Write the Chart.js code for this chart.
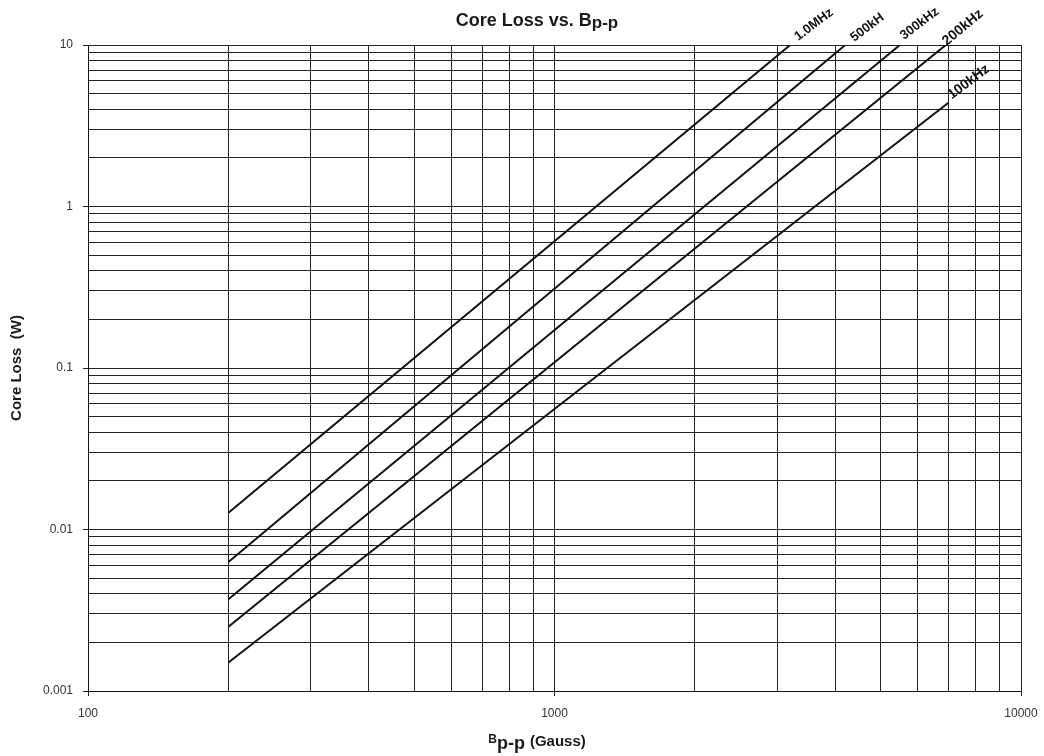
<!DOCTYPE html>
<html>
<head>
<meta charset="utf-8">
<title>Core Loss vs. Bp-p</title>
<script src="https://cdn.jsdelivr.net/npm/chart.js@4/dist/chart.umd.min.js"></script>
<style>
  html, body { margin: 0; padding: 0; background: #fff; }
  #wrap { width: 1044px; height: 756px; }
</style>
</head>
<body>
<div id="wrap"><canvas id="lossChart" width="1044" height="756"></canvas></div>
<script>
// curve labels and end points (B in gauss, loss in W)
const freqLabels = ['1.0MHz', '500kH', '300kHz', '200kHz', '100kHz'];
const bStart = [200, 200, 200, 200, 200];
const bEnd = [3200, 4200, 5500, 6900, 7000];
const lossStart = [0.0127, 0.0063, 0.0037, 0.0025, 0.0015];
const lossEnd = [10, 10, 10, 10, 4.4];

// axis ticks: decades carry a label, the rest are grid only
const xMajor = [100, 1000, 10000];
const xTickLabels = ['100', '1000', '10000'];
const yMajor = [0.001, 0.01, 0.1, 1, 10];
const yTickLabels = ['0.001', '0.01', '0.1', '1', '10'];
const steps = [1, 2, 3, 4, 5, 6, 7, 8, 9];

function gridValues(majors) {
  const out = [];
  majors.forEach((m, i) => {
    if (i === majors.length - 1) { out.push(m); return; }
    steps.forEach(s => out.push(+(m * s).toPrecision(6)));
  });
  return out;
}
const xTickValues = gridValues(xMajor);
const yTickValues = gridValues(yMajor);

function majorLabel(value, majors, labels) {
  const i = majors.findIndex(m => Math.abs(value / m - 1) < 1e-6);
  return i >= 0 ? labels[i] : '';
}

// label styling per curve (offset from line end, rotation, font size)
const labelStyle = [
  { dx: 8, dy: -4, angle: -37, size: 13 },
  { dx: 9, dy: -3, angle: -37, size: 13 },
  { dx: 4, dy: -5, angle: -37, size: 13 },
  { dx: 1, dy: 1, angle: -40, size: 14 },
  { dx: 3, dy: -3, angle: -37, size: 14 }
];

const curveLabels = {
  id: 'curveLabels',
  afterDatasetsDraw(chart) {
    const ctx = chart.ctx;
    chart.data.datasets.forEach((ds, i) => {
      const pts = chart.getDatasetMeta(i).data;
      const end = pts[pts.length - 1];
      const st = labelStyle[i];
      ctx.save();
      ctx.translate(end.x + st.dx, end.y + st.dy);
      ctx.rotate(st.angle * Math.PI / 180);
      ctx.font = 'bold ' + st.size + 'px "Liberation Sans", Arial, sans-serif';
      ctx.fillStyle = '#111';
      ctx.textAlign = 'left';
      ctx.textBaseline = 'alphabetic';
      ctx.fillText(ds.label, 0, 0);
      ctx.restore();
    });
  }
};

// draw a run of text pieces with their own size and baseline shift
function drawRuns(ctx, runs, cx, baseY) {
  let total = 0;
  runs.forEach(r => {
    ctx.font = 'bold ' + r.size + 'px "Liberation Sans", Arial, sans-serif';
    r.w = ctx.measureText(r.text).width;
    total += r.w + (r.gap || 0);
  });
  let x = cx - total / 2;
  runs.forEach(r => {
    ctx.font = 'bold ' + r.size + 'px "Liberation Sans", Arial, sans-serif';
    ctx.fillText(r.text, x, baseY + r.shift);
    x += r.w + (r.gap || 0);
  });
}

const titles = {
  id: 'titles',
  afterDraw(chart) {
    const ctx = chart.ctx;
    ctx.save();
    ctx.fillStyle = '#1a1a1a';
    ctx.textAlign = 'left';
    ctx.textBaseline = 'alphabetic';
    drawRuns(ctx, [
      { text: 'Core Loss vs. B', size: 18, shift: 0 },
      { text: 'p-p', size: 17, shift: 2 }
    ], 537, 26);
    drawRuns(ctx, [
      { text: 'B', size: 12, shift: -6 },
      { text: 'p-p', size: 18, shift: 0, gap: 5 },
      { text: '(Gauss)', size: 15, shift: -3 }
    ], 537, 749);
    ctx.restore();
  }
};

const datasets = freqLabels.map((name, i) => ({
  label: name,
  data: [{ x: bStart[i], y: lossStart[i] }, { x: bEnd[i], y: lossEnd[i] }],
  borderColor: '#111',
  borderWidth: 2,
  pointRadius: 0,
  tension: 0,
  fill: false
}));

const gridColor = '#222';

new Chart(document.getElementById('lossChart'), {
  type: 'line',
  data: { datasets },
  options: {
    responsive: false,
    animation: false,
    devicePixelRatio: 1,
    layout: { padding: { top: 45, right: 23, left: 0, bottom: 0 } },
    plugins: {
      legend: { display: false },
      title: { display: false },
      tooltip: { enabled: false }
    },
    scales: {
      x: {
        type: 'logarithmic',
        min: 100,
        max: 10000,
        afterBuildTicks: scale => { scale.ticks = xTickValues.map(v => ({ value: v })); },
        afterFit: scale => {
          scale.height = 65;
          scale.paddingLeft = 0;
          scale.paddingRight = 0;
        },
        grid: {
          color: gridColor,
          lineWidth: 1,
          tickLength: 5,
          tickColor: c => majorLabel(c.tick.value, xMajor, xTickLabels) ? gridColor : 'rgba(0,0,0,0)'
        },
        border: { color: '#111', width: 1 },
        ticks: {
          autoSkip: false,
          maxRotation: 0,
          padding: 10,
          color: '#333',
          font: { family: '"Liberation Sans", Arial, sans-serif', size: 12 },
          callback: v => majorLabel(v, xMajor, xTickLabels)
        }
      },
      y: {
        type: 'logarithmic',
        min: 0.001,
        max: 10,
        afterBuildTicks: scale => { scale.ticks = yTickValues.map(v => ({ value: v })); },
        afterFit: scale => {
          scale.width = 88;
          scale.paddingTop = 0;
          scale.paddingBottom = 0;
        },
        grid: {
          color: gridColor,
          lineWidth: 1,
          tickLength: 5,
          tickColor: c => majorLabel(c.tick.value, yMajor, yTickLabels) ? gridColor : 'rgba(0,0,0,0)'
        },
        border: { color: '#111', width: 1 },
        ticks: {
          autoSkip: false,
          padding: 10,
          color: '#333',
          font: { family: '"Liberation Sans", Arial, sans-serif', size: 12 },
          callback: v => majorLabel(v, yMajor, yTickLabels)
        },
        title: {
          display: true,
          text: 'Core Loss  (W)',
          color: '#1a1a1a',
          padding: { top: 8, bottom: 0 },
          font: { family: '"Liberation Sans", Arial, sans-serif', size: 15, weight: 'bold' }
        }
      }
    }
  },
  plugins: [curveLabels, titles]
});
</script>
</body>
</html>
